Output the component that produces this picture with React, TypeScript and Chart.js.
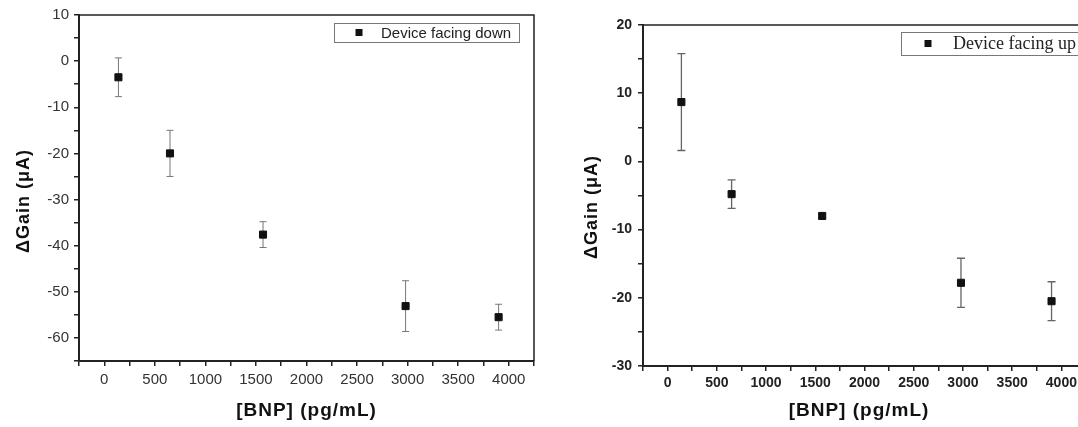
import React, { useEffect, useRef } from 'react';
import { Chart, registerables } from 'chart.js';

Chart.register(...registerables);

// ---- data ----
const concentrations = [140, 650, 1570, 2980, 3900];
const gainDown = [-3.5, -20.0, -37.6, -53.1, -55.5];
const errDown = [4.2, 5.0, 2.8, 5.5, 2.8];
const gainUp = [8.7, -4.8, -8.0, -17.8, -20.5];
const errUp = [7.1, 2.1, 0.3, 3.6, 2.85];
const xTickLabels = ['0', '500', '1000', '1500', '2000', '2500', '3000', '3500', '4000'];
const downYTickLabels = ['10', '0', '-10', '-20', '-30', '-40', '-50', '-60'];
const upYTickLabels = ['20', '10', '0', '-10', '-20', '-30'];
const labelDown = 'Device facing down';
const labelUp = 'Device facing up';
const xTitle = '[BNP] (pg/mL)';
const yTitle = 'ΔGain (μA)';

const panelPlugin = {
  id: 'panel',
  beforeDatasetsDraw(chart: any, _a: any, opts: any) {
    const { ctx, scales } = chart;
    const x = scales.x;
    const y = scales.y;
    const ds = chart.data.datasets[0];
    ctx.save();
    ctx.strokeStyle = opts.errColor;
    ctx.lineWidth = opts.errWidth;
    ds.data.forEach((p: any, i: number) => {
      const e = opts.errors[i];
      const px = x.getPixelForValue(p.x);
      const yt = y.getPixelForValue(p.y + e);
      const yb = y.getPixelForValue(p.y - e);
      const cw = opts.capHalf;
      ctx.beginPath();
      ctx.moveTo(px, yt);
      ctx.lineTo(px, yb);
      ctx.moveTo(px - cw, yt);
      ctx.lineTo(px + cw, yt);
      ctx.moveTo(px - cw, yb);
      ctx.lineTo(px + cw, yb);
      ctx.stroke();
    });
    ctx.restore();
  },
  afterDraw(chart: any, _a: any, opts: any) {
    const { ctx, chartArea } = chart;
    ctx.save();
    // frame (top and right)
    ctx.strokeStyle = '#222';
    ctx.lineWidth = opts.frameWidth;
    ctx.beginPath();
    ctx.moveTo(chartArea.left, chartArea.top);
    ctx.lineTo(chartArea.right, chartArea.top);
    ctx.lineTo(chartArea.right, chartArea.bottom);
    ctx.stroke();

    // axis titles
    ctx.fillStyle = '#111';
    (ctx as any).letterSpacing = '1px';
    ctx.textAlign = 'center';
    ctx.textBaseline = 'middle';
    ctx.font = 'bold 19px "Liberation Sans", Arial, sans-serif';
    ctx.fillText(opts.xTitle, opts.xTitleX, opts.xTitleY);
    ctx.font = 'bold 18px "Liberation Sans", Arial, sans-serif';
    ctx.save();
    ctx.translate(opts.yTitleX, opts.yTitleY);
    ctx.rotate(-Math.PI / 2);
    ctx.fillText(opts.yTitle, 0, 0);
    ctx.restore();
    (ctx as any).letterSpacing = '0px';

    // legend
    const lg = opts.legend;
    ctx.strokeStyle = '#777';
    ctx.lineWidth = 1;
    ctx.fillStyle = '#fff';
    ctx.fillRect(lg.x, lg.y, lg.w, lg.h);
    ctx.strokeRect(lg.x + 0.5, lg.y + 0.5, lg.w, lg.h);
    ctx.fillStyle = '#111';
    const cy = lg.y + lg.h / 2;
    ctx.fillRect(lg.mx - 3.5, cy - 3.5, 7, 7);
    ctx.font = lg.font;
    ctx.textAlign = 'left';
    ctx.textBaseline = 'middle';
    ctx.fillStyle = '#222';
    ctx.fillText(chart.data.datasets[0].label, lg.tx, cy + 1);
    ctx.restore();
  },
};

function makeConfig(p: any) {
  return {
    type: 'scatter',
    data: {
      datasets: [
        {
          label: p.label,
          data: concentrations.map((c, i) => ({ x: c, y: p.values[i] })),
          pointStyle: 'rect',
          pointRadius: 5,
          pointHoverRadius: 5,
          backgroundColor: '#111',
          borderColor: '#111',
          borderWidth: 1,
          showLine: false,
        },
      ],
    },
    options: {
      responsive: false,
      animation: false,
      events: [],
      layout: { padding: { left: 0, top: p.padTop, right: p.padRight, bottom: 0 } },
      plugins: {
        legend: { display: false },
        tooltip: { enabled: false },
        panel: p.panel,
      },
      scales: {
        x: {
          type: 'linear',
          min: -250,
          max: 4250,
          ticks: {
            stepSize: 250,
            autoSkip: false,
            maxRotation: 0,
            padding: p.xPad,
            color: p.tickColor,
            font: p.tickFont,
            callback: (v: number) => (xTickLabels.includes(String(v)) ? String(v) : ''),
          },
          grid: { drawOnChartArea: false, tickLength: 5, color: '#222', lineWidth: 1.5 },
          border: { color: '#222', width: 2 },
          afterFit: (s: any) => {
            s.height = p.xHeight;
          },
        },
        y: {
          type: 'linear',
          min: p.yMin,
          max: p.yMax,
          ticks: {
            stepSize: 5,
            autoSkip: false,
            padding: p.yPad,
            color: p.tickColor,
            font: p.tickFont,
            callback: (v: number) => (p.yLabels.includes(String(v)) ? String(v) : ''),
          },
          grid: { drawOnChartArea: false, tickLength: 5, color: '#222', lineWidth: 1.5 },
          border: { color: '#222', width: 2 },
          afterFit: (s: any) => {
            s.width = p.yWidth;
          },
        },
      },
    },
    plugins: [panelPlugin],
  };
}

export default function App() {
  const leftRef = useRef<HTMLCanvasElement>(null);
  const rightRef = useRef<HTMLCanvasElement>(null);

  useEffect(() => {
    const left = new Chart(
      leftRef.current as HTMLCanvasElement,
      makeConfig({
        label: labelDown,
        values: gainDown,
        yMin: -65,
        yMax: 10,
        yLabels: downYTickLabels,
        padTop: 15,
        padRight: 11,
        xHeight: 66,
        yWidth: 79,
        xPad: 5,
        yPad: 5,
        tickColor: '#333',
        tickFont: { family: '"Liberation Sans", Arial, sans-serif', size: 15 },
        panel: {
          errors: errDown,
          errColor: '#777',
          errWidth: 1,
          capHalf: 3.5,
          frameWidth: 1.5,
          xTitle,
          yTitle,
          xTitleX: 306.5,
          xTitleY: 411,
          yTitleX: 24,
          yTitleY: 201,
          legend: {
            x: 334,
            y: 23,
            w: 185,
            h: 19,
            mx: 359,
            tx: 381,
            font: '15px "Liberation Sans", Arial, sans-serif',
          },
        },
      }) as any
    );
    const right = new Chart(
      rightRef.current as HTMLCanvasElement,
      makeConfig({
        label: labelUp,
        values: gainUp,
        yMin: -30,
        yMax: 20,
        yLabels: upYTickLabels,
        padTop: 25,
        padRight: 11,
        xHeight: 61,
        yWidth: 95,
        xPad: 4,
        yPad: 6,
        tickColor: '#222',
        tickFont: { family: '"Liberation Sans", Arial, sans-serif', size: 14, weight: 'bold' },
        panel: {
          errors: errUp,
          errColor: '#666',
          errWidth: 1.3,
          capHalf: 4,
          frameWidth: 1.5,
          xTitle,
          yTitle,
          xTitleX: 311,
          xTitleY: 411,
          yTitleX: 44,
          yTitleY: 207,
          legend: {
            x: 353,
            y: 32,
            w: 200,
            h: 23,
            mx: 380,
            tx: 405,
            font: '18px "Liberation Serif", "Times New Roman", serif',
          },
        },
      }) as any
    );
    return () => {
      left.destroy();
      right.destroy();
    };
  }, []);

  return (
    <div
      style={{
        position: 'fixed',
        left: 0,
        top: 0,
        width: 1078,
        height: 427,
        overflow: 'hidden',
        background: '#fff',
      }}
    >
      <canvas ref={leftRef} width={545} height={427} style={{ position: 'absolute', left: 0, top: 0 }} />
      <canvas ref={rightRef} width={549} height={427} style={{ position: 'absolute', left: 548, top: 0 }} />
    </div>
  );
}
